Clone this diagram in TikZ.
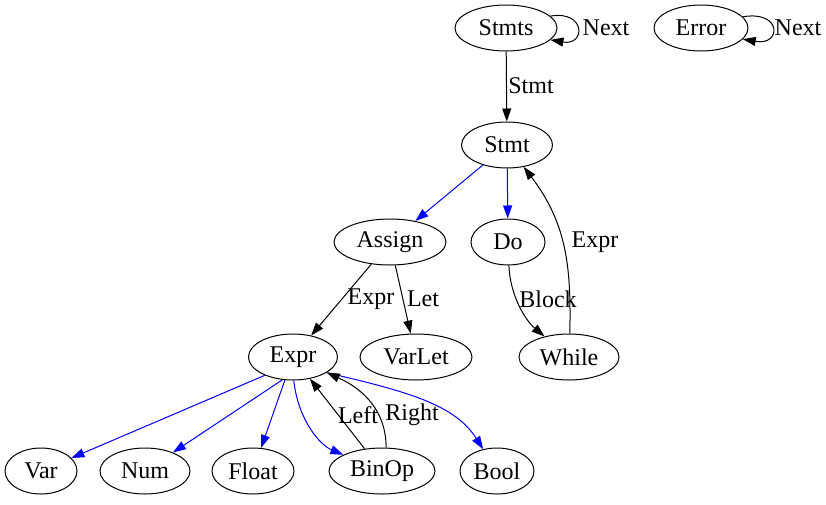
\documentclass[tikz,border=0pt]{standalone}
\usepackage{fontspec}
\setmainfont{Liberation Serif}
\usetikzlibrary{shapes.geometric,arrows.meta}
\definecolor{edgeblue}{RGB}{0,0,255}
\tikzset{
  gnode/.style={draw=black, ellipse, line width=1pt, inner sep=0pt, minimum height=46pt,
    font=\fontsize{24}{27}\selectfont},
  elabel/.style={font=\fontsize{24}{27}\selectfont, inner sep=0pt},
  arr/.style={line width=1pt, -{Triangle[length=13pt,width=9pt]}},
  barr/.style={arr, draw=edgeblue},
}
\begin{document}
\begin{tikzpicture}[x=1pt,y=-1pt]
\useasboundingbox (0,0) rectangle (826,504);
% nodes
\node[gnode, minimum width=102pt] (stmts) at (506,28) {Stmts};
\node[gnode, minimum width=94pt]  (error) at (701,28) {Error};
\node[gnode, minimum width=91pt]  (stmt)  at (507,145) {Stmt};
\node[gnode, minimum width=112pt] (assign) at (390,242) {Assign};
\node[gnode, minimum width=74pt]  (do)    at (508,242) {Do};
\node[gnode, minimum width=89pt]  (expr)  at (293,357) {Expr};
\node[gnode, minimum width=112pt] (varlet) at (416,357) {VarLet};
\node[gnode, minimum width=100pt] (while) at (569,357) {While};
\node[gnode, minimum width=72pt]  (var)   at (41,471) {Var};
\node[gnode, minimum width=90pt]  (num)   at (145,471) {Num};
\node[gnode, minimum width=82pt]  (float) at (253,471) {Float};
\node[gnode, minimum width=106pt] (binop) at (382,471) {BinOp};
\node[gnode, minimum width=74pt]  (bool)  at (497,471) {Bool};
% self loops
\draw[arr] (stmts.15) .. controls (586,10) and (586,46) .. (stmts.-15);
\node[elabel] (nextA) at (606,28) {Next};
\draw[arr] (error.15) .. controls (782,10) and (782,46) .. (error.-15);
\node[elabel] (nextB) at (798,28) {Next};
% Stmts -> Stmt
\draw[arr] (stmts) -- (stmt);
\node[elabel] (lstmt) at (531,86) {Stmt};
% Stmt -> Assign, Do
\draw[barr] (stmt) -- (assign);
\draw[barr] (stmt) -- (do);
% Do -> While
\draw[arr] (do) .. controls (510,295) and (525,320) .. (while);
\node[elabel] (lblock) at (548,299) {Block};
% While -> Stmt
\draw[arr] (while.88) .. controls (571,270) and (568,225) .. (stmt);
\node[elabel] (lexpr1) at (595,242) {Expr};
% Assign -> Expr, VarLet
\draw[arr] (assign) -- (expr);
\node[elabel] (lexpr2) at (371,299) {Expr};
\draw[arr] (assign) -- (varlet);
\node[elabel] (llet) at (423,299) {Let};
% Expr -> leaves
\draw[barr] (expr.-147) -- (var);
\draw[barr] (expr.-115) -- (num);
\draw[barr] (expr) -- (float);
\draw[barr] (expr.-88) .. controls (298,420) and (320,445) .. (binop);
\draw[barr] (expr.-25) .. controls (410,392) and (455,405) .. (bool);
% BinOp -> Expr
\draw[arr] (binop) -- (expr);
\node[elabel] (lleft) at (358,415) {Left};
\draw[arr] (binop.80) .. controls (386,412) and (365,390) .. (expr);
\node[elabel] (lright) at (412,415) {Right};
\end{tikzpicture}
\end{document}
